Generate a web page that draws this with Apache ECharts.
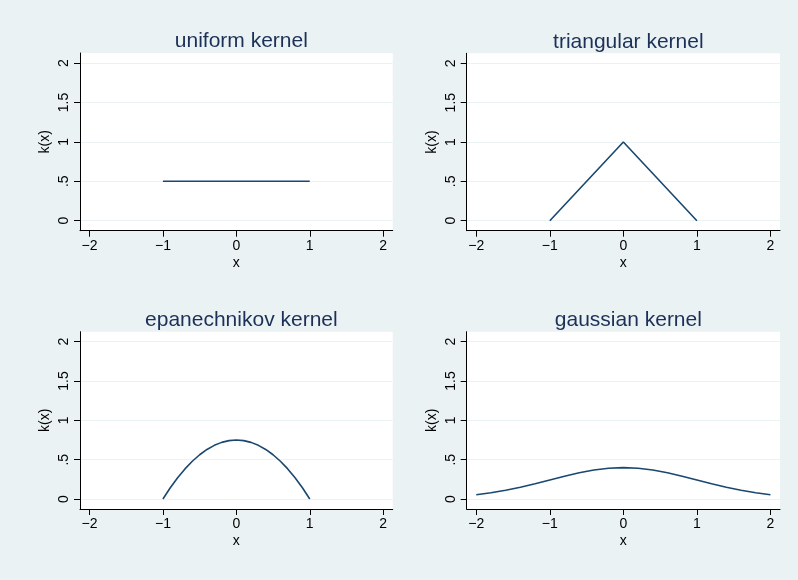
<!DOCTYPE html>
<html>
<head>
<meta charset="utf-8">
<script src="https://cdn.jsdelivr.net/npm/echarts@6/dist/echarts.min.js"></script>
<style>
  html, body { margin: 0; padding: 0; background: #eaf2f3; }
  #chart { width: 798px; height: 580px; }
</style>
</head>
<body>
<div id="chart"></div>
<script>
// Panel titles
const panelTitles = ['uniform kernel', 'triangular kernel', 'epanechnikov kernel', 'gaussian kernel'];

// Tick values shared by every panel
const xTicks = [-2, -1, 0, 1, 2];
const yTicks = [0, 0.5, 1, 1.5, 2];

// Kernel curves: x positions and k(x) values
const uniformX = [-1, 1];
const uniformY = [0.5, 0.5];

const triangularX = [-1, 0, 1];
const triangularY = [0, 1, 0];

const epanX = [-1, -0.9, -0.8, -0.7, -0.6, -0.5, -0.4, -0.3, -0.2, -0.1, 0,
               0.1, 0.2, 0.3, 0.4, 0.5, 0.6, 0.7, 0.8, 0.9, 1];
const epanY = [0, 0.1425, 0.27, 0.3825, 0.48, 0.5625, 0.63, 0.6825, 0.72, 0.7425, 0.75,
               0.7425, 0.72, 0.6825, 0.63, 0.5625, 0.48, 0.3825, 0.27, 0.1425, 0];

const gaussX = [-2, -1.8, -1.6, -1.4, -1.2, -1, -0.8, -0.6, -0.4, -0.2, 0,
                0.2, 0.4, 0.6, 0.8, 1, 1.2, 1.4, 1.6, 1.8, 2];
const gaussY = [0.054, 0.079, 0.111, 0.150, 0.194, 0.242, 0.290, 0.333, 0.368, 0.391, 0.399,
                0.391, 0.368, 0.333, 0.290, 0.242, 0.194, 0.150, 0.111, 0.079, 0.054];

const curves = [[uniformX, uniformY], [triangularX, triangularY], [epanX, epanY], [gaussX, gaussY]];

// Panel plot regions (left, top, width, height)
const panels = [
  { left: 80,    top: 53,    width: 312.7, height: 177.7 },
  { left: 466.7, top: 53.3,  width: 313.3, height: 177.4 },
  { left: 80,    top: 331.7, width: 312.7, height: 177.3 },
  { left: 466.7, top: 331.7, width: 313.3, height: 177.3 }
];

const NAVY = '#1a476f';
const TITLE = '#1c3058';
const GRIDC = '#eaf2f3';
const FONT = 'Liberation Sans, Arial, sans-serif';

const fmt = v => {
  if (v === 0) return '0';
  let s = String(Math.abs(v));
  if (s.startsWith('0.')) s = s.slice(1);
  return (v < 0 ? '\u2212' : '') + s;
};

const grids = [], xAxes = [], yAxes = [], series = [], titles = [];

panels.forEach((p, i) => {
  grids.push({
    left: p.left, top: p.top, width: p.width, height: p.height,
    show: true, backgroundColor: '#ffffff', borderWidth: 0
  });
  titles.push({
    text: panelTitles[i],
    left: p.left + p.width / 2, top: p.top - 27, textAlign: 'center',
    textStyle: { color: TITLE, fontSize: 21, fontWeight: 'normal', fontFamily: FONT }
  });
  xAxes.push({
    gridIndex: i, type: 'value', min: -2.13, max: 2.13,
    name: 'x', nameLocation: 'middle', nameGap: 25,
    nameTextStyle: { color: '#000', fontSize: 14, fontFamily: FONT },
    axisLine: { show: true, onZero: false, lineStyle: { color: '#000', width: 1 } },
    axisTick: { show: true, length: 6, customValues: xTicks, lineStyle: { color: '#000' } },
    axisLabel: { customValues: xTicks, formatter: fmt, color: '#000', fontSize: 14, fontFamily: FONT, margin: 8 },
    splitLine: { show: false }
  });
  yAxes.push({
    gridIndex: i, type: 'value', min: -0.127, max: 2.127,
    name: 'k(x)', nameLocation: 'middle', nameGap: 28, nameRotate: 90,
    nameTextStyle: { color: '#000', fontSize: 14, fontFamily: FONT },
    axisLine: { show: true, onZero: false, lineStyle: { color: '#000', width: 1 } },
    axisTick: { show: true, length: 6, customValues: yTicks, lineStyle: { color: '#000' } },
    axisLabel: { customValues: yTicks, formatter: fmt, rotate: 90, color: '#000', fontSize: 14, fontFamily: FONT, margin: 9 },
    splitLine: { show: true, lineStyle: { color: GRIDC, width: 1 } }
  });
  const [xs, ys] = curves[i];
  series.push({
    type: 'line', xAxisIndex: i, yAxisIndex: i,
    data: xs.map((x, k) => [x, ys[k]]),
    showSymbol: false, symbol: 'none', smooth: false,
    lineStyle: { color: NAVY, width: 1.6 },
    silent: true, animation: false
  });
});

const chart = echarts.init(document.getElementById('chart'), null, { renderer: 'canvas' });
chart.setOption({
  backgroundColor: '#eaf2f3',
  animation: false,
  title: titles,
  grid: grids,
  xAxis: xAxes,
  yAxis: yAxes,
  series: series
});
</script>
</body>
</html>
